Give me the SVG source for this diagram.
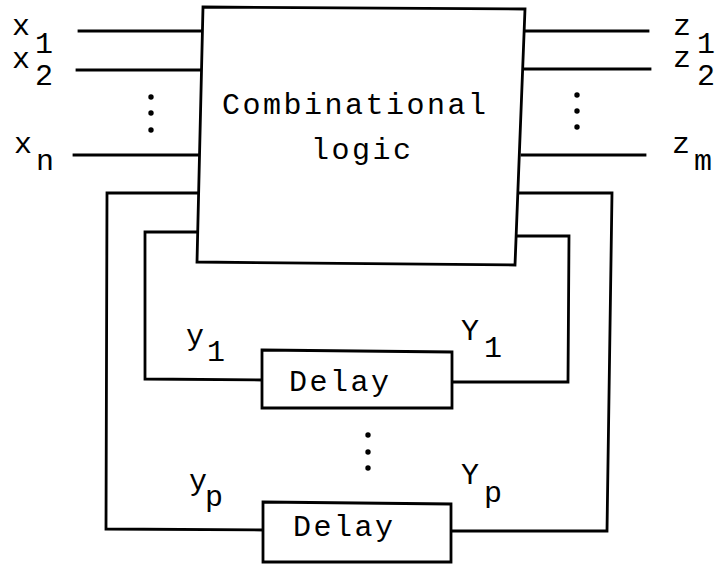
<svg xmlns="http://www.w3.org/2000/svg" width="719" height="566" viewBox="0 0 719 566">
<style>
.ln{fill:none;stroke:#000;stroke-width:2.8;stroke-linejoin:miter;stroke-linecap:square}
.box{fill:#fff;stroke:#000;stroke-width:2.8}
.t{font-family:"Liberation Mono","Courier New",monospace;font-size:30px;fill:#000}
.wide{letter-spacing:2.5px}
.dot{fill:#000}
</style>
<rect width="719" height="566" fill="#fff"/>
<g id="connectors">
<path class="ln" d="M79,31 L202,31"/>
<path class="ln" d="M77,70 L201,70"/>
<path class="ln" d="M74,155 L198,155"/>
<path class="ln" d="M525,31 L648,31"/>
<path class="ln" d="M524,69 L650,69"/>
<path class="ln" d="M522,155 L645,155"/>
<path class="ln" d="M198,193 L107,193 L106,529 L263,530"/>
<path class="ln" d="M197,232 L145,232 L145,379 L262,380"/>
<path class="ln" d="M452,382 L568,382 L569,236 L517,236"/>
<path class="ln" d="M451,531 L607,531 L612,193 L519,193"/>
</g>
<g id="dots">
<circle class="dot" cx="151" cy="97" r="2.7"/>
<circle class="dot" cx="151" cy="113" r="2.7"/>
<circle class="dot" cx="151" cy="130" r="2.7"/>
<circle class="dot" cx="577" cy="95" r="2.7"/>
<circle class="dot" cx="577" cy="111" r="2.7"/>
<circle class="dot" cx="577" cy="127" r="2.7"/>
<circle class="dot" cx="368" cy="435" r="2.7"/>
<circle class="dot" cx="368" cy="452" r="2.7"/>
<circle class="dot" cx="368" cy="468" r="2.7"/>
</g>
<g id="combinational-logic">
<path class="box" d="M203,7 L525,9 L515,265 L197,262 Z"/>
<text class="t wide" x="222" y="114">Combinational</text>
<text class="t wide" x="311" y="159">logic</text>
</g>
<g id="delay-1">
<path class="box" d="M262,350 L452,352 L452,408 L262,408 Z"/>
<text class="t wide" x="289" y="391">Delay</text>
</g>
<g id="delay-p">
<path class="box" d="M263,502 L451,504 L451,562 L263,562 Z"/>
<text class="t wide" x="293" y="536">Delay</text>
</g>
<g id="labels">
<text class="t" x="12" y="35">x</text><text class="t" x="35" y="53">1</text>
<text class="t" x="12" y="68">x</text><text class="t" x="35" y="85">2</text>
<text class="t" x="14" y="153">x</text><text class="t" x="36" y="170">n</text>
<text class="t" x="673" y="35">z</text><text class="t" x="697" y="53">1</text>
<text class="t" x="673" y="67">z</text><text class="t" x="697" y="85">2</text>
<text class="t" x="672" y="153">z</text><text class="t" x="694" y="170">m</text>
<text class="t" x="186" y="345">y</text><text class="t" x="207" y="361">1</text>
<text class="t" x="189" y="490">y</text><text class="t" x="205" y="506">p</text>
<text class="t" x="461" y="340">Y</text><text class="t" x="484" y="357">1</text>
<text class="t" x="461" y="484">Y</text><text class="t" x="484" y="502">p</text>
</g>
</svg>
